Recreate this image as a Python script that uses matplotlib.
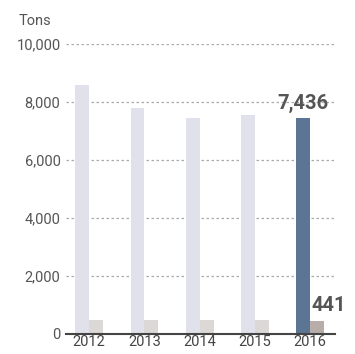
import matplotlib.pyplot as plt
import numpy as np

years = ["2012", "2013", "2014", "2015", "2016"]
total = [8600, 7800, 7450, 7550, 7436]
minor = [500, 500, 470, 470, 441]

plt.rcParams['font.family'] = ['Roboto', 'DejaVu Sans']

fig = plt.figure(figsize=(3.55, 3.54), dpi=100)
ax = fig.add_axes([0.186, 0.0565, 0.758, 0.819])

x = np.arange(len(years))
w = 0.25
c_total = ['#e1e1eb'] * 4 + ['#5c7595']
c_minor = ['#dcd8d5'] * 4 + ['#b8ada9']
ax.bar(x - w / 2, total, w, color=c_total, zorder=2)
ax.bar(x + w / 2, minor, w, color=c_minor, zorder=2)

# 最新年份的数值标注
ax.text(x[-1] - w / 2, total[-1] + 200, f"{total[-1]:,}", ha='center', va='bottom',
        fontsize=14.5, fontweight='bold', color='#555555', zorder=3)
ax.text(x[-1] + 0.03, minor[-1] + 200, f"{minor[-1]:,}", ha='left', va='bottom',
        fontsize=14.5, fontweight='bold', color='#555555', zorder=3)

ax.set_xlim(-0.42, 4.45)
ax.set_ylim(0, 10000)
ax.set_yticks(range(0, 10001, 2000))
ax.set_yticklabels([f"{v:,}" for v in range(0, 10001, 2000)])
ax.set_xticks(x)
ax.set_xticklabels(years)

for v in range(2000, 10001, 2000):
    ax.axhline(v, color='#aaaaaa', lw=0.9, ls=(0, (2, 2)), zorder=1)

for s in ['top', 'right', 'left']:
    ax.spines[s].set_visible(False)
ax.spines['bottom'].set_color('#444444')
ax.spines['bottom'].set_linewidth(1.5)
ax.spines['bottom'].set_zorder(4)
ax.tick_params(axis='both', length=0, labelsize=10.5, colors='#444444')
ax.tick_params(axis='y', pad=4)
ax.tick_params(axis='x', pad=1)
for lbl in ax.get_yticklabels():
    lbl.set_color('#555555')

fig.text(0.051, 0.94, "Tons", fontsize=10.5, color='#555555', va='center')

plt.savefig('out.png', dpi=100)
